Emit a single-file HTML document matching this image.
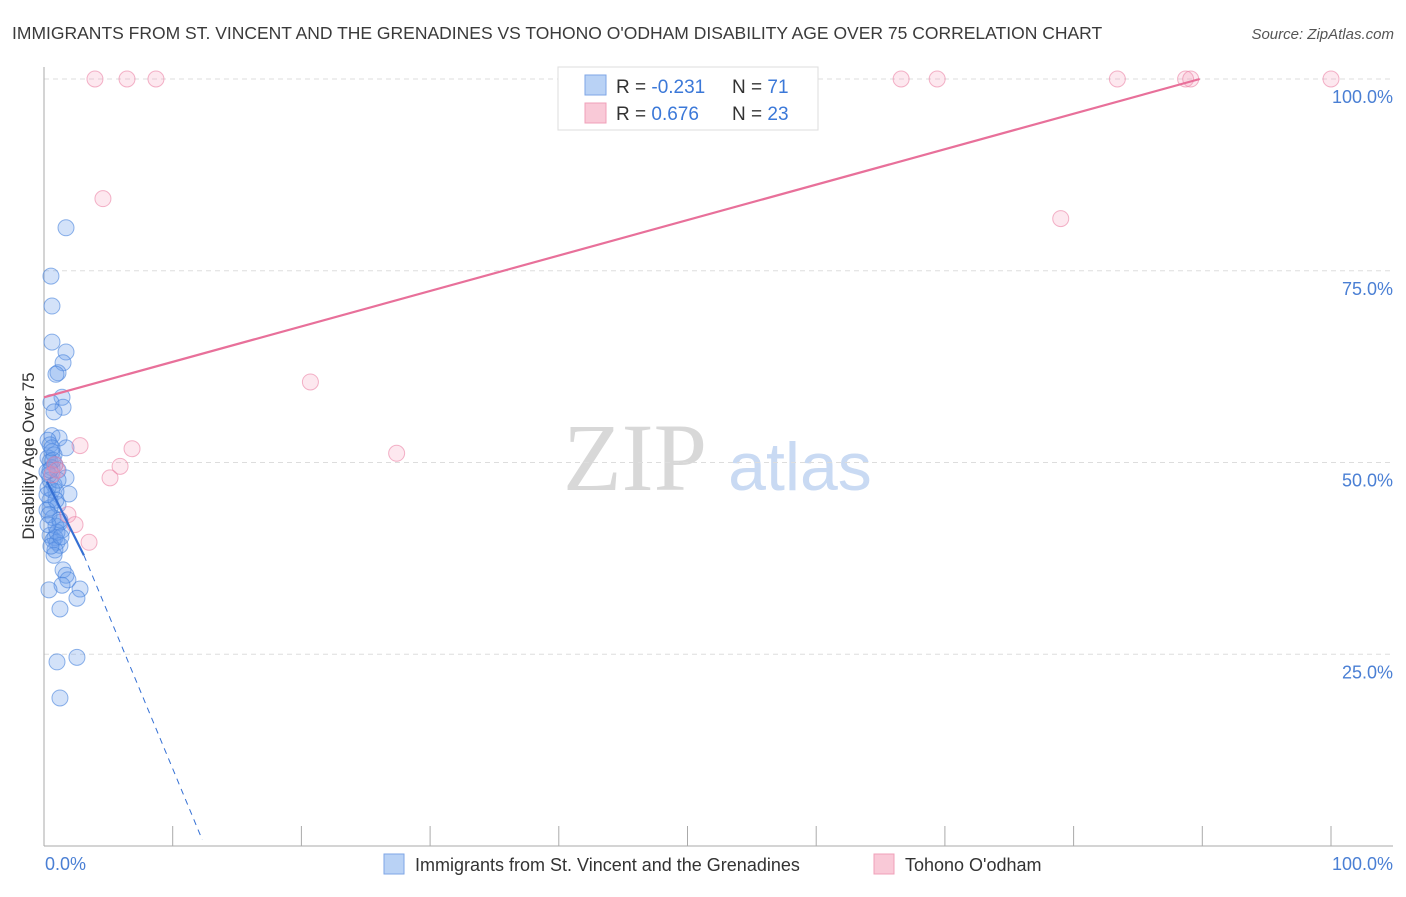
<!DOCTYPE html>
<html><head><meta charset="utf-8"><style>
body{margin:0;background:#fff;}
svg text{font-family:"Liberation Sans",sans-serif;}
</style></head><body>
<svg width="1406" height="892" viewBox="0 0 1406 892" xmlns="http://www.w3.org/2000/svg">
<text x="12" y="39" font-size="17.5" fill="#3a3a3a">IMMIGRANTS FROM ST. VINCENT AND THE GRENADINES VS TOHONO O'ODHAM DISABILITY AGE OVER 75 CORRELATION CHART</text>
<text x="1394" y="39" font-size="15" fill="#555" font-style="italic" text-anchor="end">Source: ZipAtlas.com</text>
<g>
<text x="635" y="490" font-size="96" fill="#d8d8d8" text-anchor="middle" font-family="Liberation Serif" style="font-family:'Liberation Serif',serif">ZIP</text>
<text x="800" y="490" font-size="68" fill="#c9daf3" text-anchor="middle">atlas</text>
</g>
<g id="grid"></g>
<g id="axes"></g>
<g id="marks"></g>
<text transform="translate(34,456) rotate(-90)" font-size="17" fill="#333" text-anchor="middle">Disability Age Over 75</text>
<text x="45" y="870" font-size="18" fill="#4a7fd4">0.0%</text>
<text x="1393" y="870" font-size="18" fill="#4a7fd4" text-anchor="end">100.0%</text>
<g>
<rect x="558" y="67" width="260" height="63" fill="#fff" stroke="#ddd"/>
<rect x="585" y="75" width="21" height="20" fill="#b9d2f5" stroke="#7ea6e6"/>
<rect x="585" y="103" width="21" height="20" fill="#f9c9d7" stroke="#f0a0b9"/>
<text x="616" y="93" font-size="19" fill="#333">R = <tspan fill="#3b78d8">-0.231</tspan></text>
<text x="732" y="93" font-size="19" fill="#333">N = <tspan fill="#3b78d8"> 71</tspan></text>
<text x="616" y="120" font-size="19" fill="#333">R = <tspan fill="#3b78d8"> 0.676</tspan></text>
<text x="732" y="120" font-size="19" fill="#333">N = <tspan fill="#3b78d8">23</tspan></text>
</g>
<g>
<rect x="384" y="854" width="20" height="20" fill="#b9d2f5" stroke="#7ea6e6"/>
<text x="415" y="871" font-size="18" fill="#333">Immigrants from St. Vincent and the Grenadines</text>
<rect x="874" y="854" width="20" height="20" fill="#f9c9d7" stroke="#f0a0b9"/>
<text x="905" y="871" font-size="18" fill="#333">Tohono O'odham</text>
</g>
</svg>
<script>
const blueX=[1.71,0.54,0.62,0.62,1.71,1.48,1.09,0.93,1.40,1.48,0.54,0.62,1.17,0.31,0.47,1.71,0.62,0.78,0.31,0.47,0.85,0.62,1.09,0.23,1.71,0.47,0.78,0.31,1.94,0.93,0.47,1.09,0.47,0.23,0.70,1.24,0.93,1.40,0.47,0.85,0.70,1.01,1.24,0.85,0.78,1.48,1.71,1.86,1.40,2.80,0.39,2.56,1.24,1.01,2.56,1.24,0.62,0.39,1.01,0.54,1.32,0.23,0.39,0.70,1.09,0.47,0.93,1.24,0.31,0.62,0.78];
const blueY=[80.6,74.3,70.4,65.7,64.4,63.0,61.7,61.5,58.5,57.2,57.8,53.5,53.2,52.9,52.3,51.9,51.4,51.0,50.6,50.1,49.7,49.3,49.0,48.8,48.0,47.7,47.1,46.7,45.9,46.2,45.1,44.5,44.1,43.8,42.8,42.2,41.7,41.2,40.5,40.2,39.9,39.6,39.2,38.6,37.9,36.0,35.3,34.7,34.0,33.5,33.4,32.3,30.9,24.0,24.6,19.3,46.4,43.2,40.9,39.1,40.3,45.8,48.4,50.3,47.7,49.0,45.1,42.5,41.9,51.9,56.6];
const pinkX=[3.96,6.45,8.70,66.6,69.4,83.4,88.7,89.1,100,4.58,79.0,20.7,27.4,2.80,6.84,5.91,5.13,0.85,1.01,1.86,2.41,3.50,0.62];
const pinkY=[100,100,100,100,100,100,100,100,100,84.4,81.8,60.5,51.2,52.2,51.8,49.5,48.0,49.7,49.0,43.2,41.9,39.6,48.4];
const yTicks=[25,50,75,100];
const yTickLabels=["25.0%","50.0%","75.0%","100.0%"];
const xTicks=[0,10,20,30,40,50,60,70,80,90,100];
const pinkLine={x0:0,y0:58.5,x1:89.8,y1:100};
const blueLine={x0:0.23,y0:47.5,x1:3.1,y1:37.9,x2:12.3,y2:0.8};
const NS="http://www.w3.org/2000/svg";
const sx=v=>44+v*12.87, sy=v=>846-v*7.67;
function mk(tag,attrs,parent){const e=document.createElementNS(NS,tag);for(const k in attrs)e.setAttribute(k,attrs[k]);parent.appendChild(e);return e;}
const grid=document.getElementById('grid'),axes=document.getElementById('axes'),marks=document.getElementById('marks');
yTicks.forEach((t,i)=>{
 const l=mk('line',{x1:44,x2:1393,y1:sy(t),y2:sy(t),stroke:'#ddd','stroke-dasharray':'5,4'},grid);
 
 
 const tx=mk('text',{x:1393,y:sy(t)+24,'font-size':18,fill:'#4a7fd4','text-anchor':'end'},grid);
 tx.textContent=yTickLabels[i];
 
 
});
const ya=mk('line',{x1:44,x2:44,y1:67,y2:846,stroke:'#aaa'},axes);


const xa=mk('line',{x1:44,x2:1393,y1:846,y2:846,stroke:'#aaa'},axes);


xTicks.forEach(t=>{
 const l=mk('line',{x1:sx(t),x2:sx(t),y1:826,y2:846,stroke:'#aaa'},axes);
 
 
});
blueX.forEach((x,i)=>{
 const c=mk('circle',{cx:sx(x),cy:sy(blueY[i]),r:8,fill:'rgba(110,160,235,0.3)',stroke:'rgba(70,130,220,0.6)','stroke-width':1},marks);
 
 
});
pinkX.forEach((x,i)=>{
 const c=mk('circle',{cx:sx(x),cy:sy(pinkY[i]),r:8,fill:'rgba(244,150,180,0.22)',stroke:'rgba(235,130,165,0.6)','stroke-width':1},marks);
 
 
});
const pl=mk('line',{x1:sx(pinkLine.x0),y1:sy(pinkLine.y0),x2:sx(pinkLine.x1),y2:sy(pinkLine.y1),stroke:'#e8709a','stroke-width':2.2},marks);


const bl=mk('line',{x1:sx(blueLine.x0),y1:sy(blueLine.y0),x2:sx(blueLine.x1),y2:sy(blueLine.y1),stroke:'#3570d4','stroke-width':2.2},marks);


const bd=mk('line',{x1:sx(blueLine.x1),y1:sy(blueLine.y1),x2:sx(blueLine.x2),y2:sy(blueLine.y2),stroke:'#3570d4','stroke-width':1,'stroke-dasharray':'6,5'},marks);


</script>
</body></html>
